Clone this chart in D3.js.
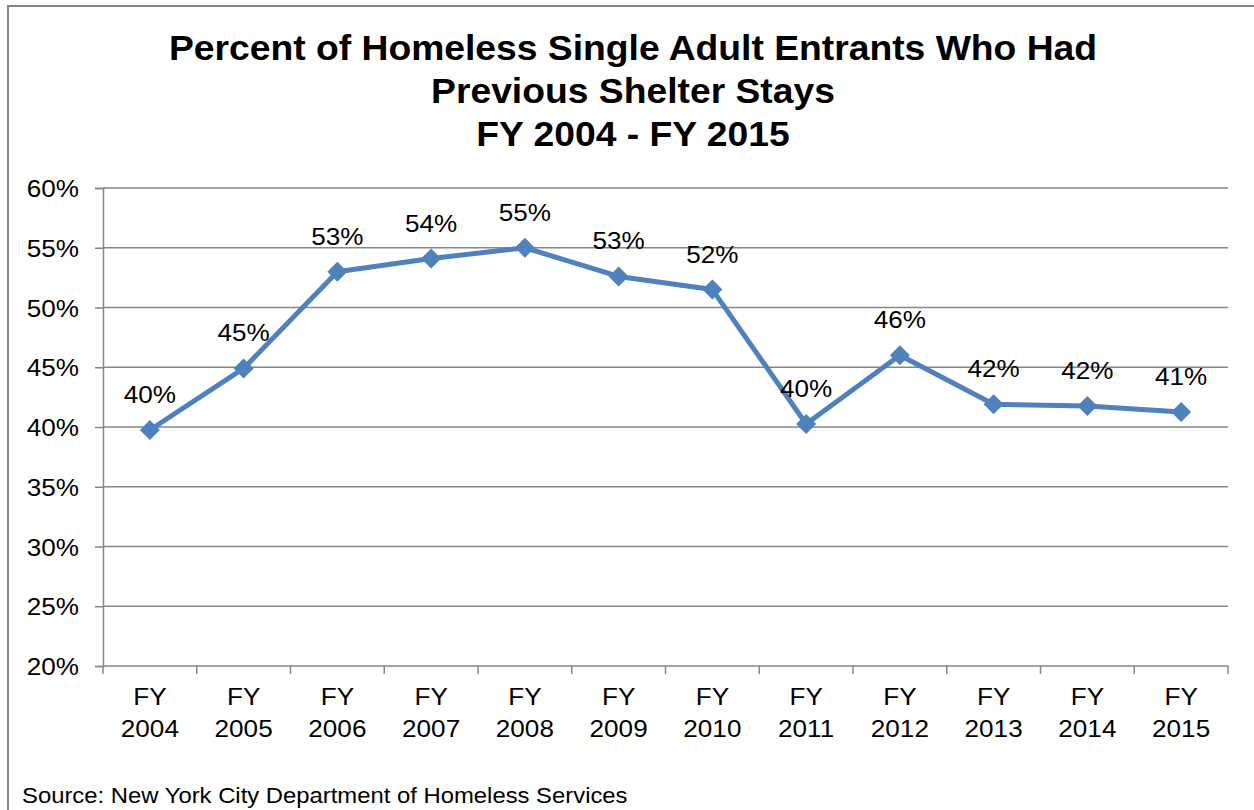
<!DOCTYPE html>
<html>
<head>
<meta charset="utf-8">
<script src="https://cdn.jsdelivr.net/npm/d3@7"></script>
<style>
  html, body { margin: 0; padding: 0; background: #fff; }
  svg { display: block; }
  text { font-family: "Liberation Sans", Arial, sans-serif; fill: #000; }
</style>
</head>
<body>
<svg id="chart" width="1254" height="810"></svg>
<script>
// Fiscal years and share of single adult entrants with a prior shelter stay (%)
const categories = ["FY 2004", "FY 2005", "FY 2006", "FY 2007", "FY 2008", "FY 2009",
                    "FY 2010", "FY 2011", "FY 2012", "FY 2013", "FY 2014", "FY 2015"];
const values = [39.75, 44.9, 53.0, 54.1, 55.0, 52.6, 51.5, 40.25, 46.0, 41.9, 41.75, 41.25];
const yTicks = [20, 25, 30, 35, 40, 45, 50, 55, 60];
const titleLines = ["Percent of Homeless Single Adult Entrants Who Had",
                    "Previous Shelter Stays",
                    "FY 2004 - FY 2015"];
const sourceNote = "Source: New York City Department of Homeless Services";

const svg = d3.select("#chart");
const gray = "#868686";
const blue = "#4F81BD";
const SX = 1.065; // horizontal text stretch

function label(sel, x, y, txt, size, anchor, weight) {
  return sel.append("text")
    .attr("transform", `translate(${x},${y}) scale(${SX},1)`)
    .attr("text-anchor", anchor || "middle")
    .attr("font-size", size)
    .attr("font-weight", weight || "normal")
    .text(txt);
}

// Outer frame
svg.append("rect")
  .attr("x", 8).attr("y", 6).attr("width", 1300).attr("height", 900)
  .attr("fill", "none").attr("stroke", gray).attr("stroke-width", 2);

// Title
titleLines.forEach((t, i) => label(svg, 633, 60 + i * 43, t, 35, "middle", "bold"));

const plot = { left: 103, right: 1228, top: 188, bottom: 666 };

const x = d3.scaleBand().domain(categories).range([plot.left, plot.right]);
const y = d3.scaleLinear().domain([20, 60]).range([plot.bottom, plot.top]);

// Horizontal gridlines
svg.append("g").selectAll("line").data(yTicks.slice(1)).join("line")
  .attr("x1", plot.left).attr("x2", plot.right)
  .attr("y1", d => y(d)).attr("y2", d => y(d))
  .attr("stroke", gray).attr("stroke-width", 1.5);

// Y axis
const yAxis = svg.append("g").attr("transform", `translate(${plot.left},0)`)
  .call(d3.axisLeft(y).tickValues(yTicks).tickSize(8).tickFormat(""));
yAxis.select(".domain").attr("stroke", gray).attr("stroke-width", 1.5);
yAxis.selectAll(".tick line").attr("stroke", gray).attr("stroke-width", 1.5);
yTicks.forEach(v => label(svg, 79, y(v) + 9, v + "%", 24.5, "end"));

// X axis with tick marks on category boundaries
const bounds = categories.map(c => x(c)).concat([plot.right]);
svg.append("line")
  .attr("x1", plot.left).attr("x2", plot.right)
  .attr("y1", plot.bottom).attr("y2", plot.bottom)
  .attr("stroke", gray).attr("stroke-width", 1.5);
svg.append("g").selectAll("line").data(bounds).join("line")
  .attr("x1", d => d).attr("x2", d => d)
  .attr("y1", plot.bottom).attr("y2", plot.bottom + 8)
  .attr("stroke", gray).attr("stroke-width", 1.5);
categories.forEach(c => {
  const cx = x(c) + x.bandwidth() / 2;
  const parts = c.split(" ");
  label(svg, cx, 705, parts[0], 24.5);
  label(svg, cx, 737, parts[1], 24.5);
});

// Series line
const cxOf = (d, i) => x(categories[i]) + x.bandwidth() / 2;
svg.append("path")
  .datum(values)
  .attr("fill", "none").attr("stroke", blue).attr("stroke-width", 5)
  .attr("stroke-linejoin", "round")
  .attr("d", d3.line().x(cxOf).y(d => y(d)));

// Diamond markers
svg.append("g").selectAll("path").data(values).join("path")
  .attr("transform", (d, i) => `translate(${cxOf(d, i)},${y(d)})`)
  .attr("d", "M0,-10L10,0L0,10L-10,0Z")
  .attr("fill", blue);

// Value labels
values.forEach((v, i) => label(svg, cxOf(v, i), y(v) - 27, Math.round(v) + "%", 24.5));

// Source note
label(svg, 22, 803, sourceNote, 22.4, "start");
</script>
</body>
</html>
